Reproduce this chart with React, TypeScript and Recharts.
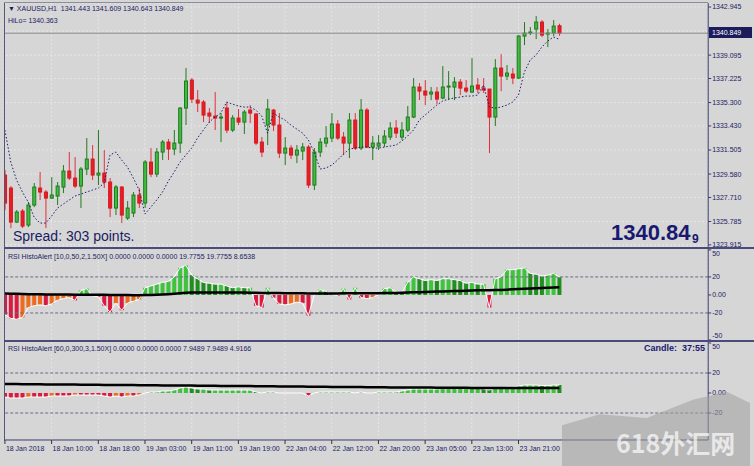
import { ComposedChart, Bar, Line, XAxis, YAxis, CartesianGrid, ReferenceLine, Cell } from "recharts";

// ---- data ----
const timeLabels = [
  "18 Jan 2018", "18 Jan 10:00", "18 Jan 18:00", "19 Jan 03:00", "19 Jan 11:00", "19 Jan 19:00",
  "22 Jan 04:00", "22 Jan 12:00", "22 Jan 20:00", "23 Jan 05:00", "23 Jan 13:00", "23 Jan 21:00",
];
const timeTickBars = [0, 8, 16, 24, 32, 40, 48, 56, 64, 72, 80, 88];

const opens = [
  1329.5, 1328.46, 1325.74, 1326.62, 1325.5, 1327.1, 1328.46, 1328.14, 1327.66, 1327.82,
  1328.54, 1329.82, 1329.26, 1328.62, 1329.98, 1330.78, 1329.5, 1329.66, 1328.94, 1326.86,
  1328.54, 1326.06, 1326.46, 1327.9, 1327.26, 1330.54, 1329.58, 1331.34, 1332.14, 1331.58,
  1332.06, 1334.86, 1337.1, 1335.5, 1335.34, 1334.46, 1334.22, 1334.06, 1334.86, 1333.1,
  1334.06, 1333.74, 1334.7, 1334.38, 1332.14, 1333.5, 1334.7, 1333.5, 1331.26, 1331.66,
  1331.1, 1331.42, 1331.74, 1328.7, 1331.34, 1332.06, 1332.46, 1333.58, 1332.54, 1332.06,
  1333.9, 1331.66, 1334.7, 1331.74, 1331.82, 1332.06, 1332.54, 1333.26, 1332.54, 1333.1,
  1334.14, 1336.54, 1336.22, 1335.98, 1336.14, 1335.66, 1336.54, 1336.54, 1336.94, 1336.46,
  1336.14, 1336.7, 1336.46, 1336.38, 1334.14, 1338.06, 1337.42, 1337.58, 1337.26, 1340.62,
  1340.86, 1341.18, 1341.74, 1340.78, 1340.86, 1341.443,
];
const highs = [
  1329.9, 1328.62, 1326.7, 1326.78, 1327.34, 1328.86, 1329.74, 1328.3, 1329.34, 1328.94,
  1330.3, 1331.34, 1330.94, 1330.14, 1332.46, 1331.9, 1333.1, 1331.5, 1329.26, 1328.7,
  1328.62, 1327.42, 1328.14, 1328.46, 1330.7, 1331.66, 1331.66, 1332.3, 1332.38, 1333.1,
  1334.94, 1338.06, 1337.26, 1336.3, 1335.5, 1334.86, 1336.14, 1334.46, 1335.34, 1334.3,
  1334.78, 1334.7, 1335.1, 1334.46, 1332.54, 1335.58, 1334.78, 1334.46, 1332.54, 1331.9,
  1331.9, 1332.06, 1331.9, 1331.66, 1332.46, 1333.42, 1334.46, 1333.9, 1332.94, 1334.46,
  1334.46, 1335.58, 1334.86, 1332.62, 1332.7, 1333.1, 1333.74, 1333.9, 1333.74, 1335.02,
  1337.26, 1336.86, 1337.1, 1336.54, 1336.54, 1338.22, 1337.82, 1337.34, 1337.18, 1337.1,
  1338.86, 1337.26, 1337.26, 1336.38, 1338.78, 1339.18, 1338.3, 1338.06, 1340.7, 1341.74,
  1341.34, 1342.22, 1341.9, 1341.18, 1341.9, 1341.609,
];
const lows = [
  1326.7, 1325.26, 1325.66, 1325.26, 1325.34, 1326.94, 1327.5, 1325.26, 1327.58, 1327.1,
  1328.06, 1329.1, 1328.46, 1326.86, 1329.5, 1329.1, 1328.7, 1328.46, 1326.14, 1326.3,
  1325.66, 1325.9, 1326.14, 1326.86, 1326.86, 1329.34, 1329.34, 1330.7, 1330.7, 1331.1,
  1331.26, 1333.5, 1335.26, 1334.54, 1333.74, 1333.66, 1333.1, 1332.14, 1332.86, 1332.94,
  1333.5, 1332.78, 1333.66, 1331.9, 1330.94, 1331.9, 1333.02, 1330.86, 1330.3, 1330.78,
  1330.46, 1330.7, 1328.46, 1328.3, 1330.94, 1331.74, 1332.14, 1332.3, 1331.1, 1330.86,
  1331.5, 1331.5, 1331.66, 1330.7, 1331.5, 1331.74, 1332.3, 1332.46, 1332.3, 1332.94,
  1334.06, 1335.5, 1335.1, 1335.5, 1335.18, 1335.58, 1335.5, 1335.5, 1335.9, 1336.06,
  1336.06, 1336.06, 1336.06, 1331.26, 1333.42, 1336.22, 1337.1, 1336.78, 1337.18, 1339.9,
  1340.7, 1340.38, 1340.54, 1339.74, 1340.62, 1340.643,
];
const closes = [
  1327.26, 1325.74, 1326.54, 1325.42, 1327.1, 1328.54, 1328.14, 1327.66, 1327.9, 1328.62,
  1329.82, 1329.26, 1328.62, 1329.98, 1330.78, 1329.5, 1329.66, 1328.94, 1326.86, 1328.54,
  1326.3, 1326.86, 1327.9, 1327.26, 1330.54, 1329.58, 1331.34, 1332.14, 1331.58, 1332.06,
  1334.86, 1337.02, 1335.58, 1335.26, 1334.3, 1334.22, 1334.06, 1334.14, 1333.1, 1334.06,
  1333.74, 1334.54, 1334.46, 1332.06, 1331.34, 1334.78, 1333.5, 1331.26, 1331.66, 1331.1,
  1331.5, 1331.74, 1328.7, 1331.34, 1332.14, 1332.46, 1333.58, 1332.46, 1332.06, 1333.9,
  1331.66, 1334.7, 1331.74, 1332.06, 1332.06, 1332.62, 1333.26, 1332.86, 1333.1, 1334.14,
  1336.54, 1336.22, 1335.9, 1336.14, 1335.58, 1336.54, 1336.62, 1336.94, 1336.46, 1336.22,
  1336.62, 1336.38, 1336.3, 1334.14, 1338.06, 1337.42, 1337.66, 1337.26, 1340.62, 1340.86,
  1340.94, 1341.74, 1340.7, 1340.86, 1341.42, 1340.849,
];
const hilo = [
  1333.1, 1330.54, 1329.1, 1328.14, 1327.34, 1326.14, 1325.66, 1325.66, 1326.22, 1326.86,
  1327.18, 1327.5, 1327.82, 1327.98, 1328.14, 1328.3, 1328.46, 1328.86, 1331.1, 1331.34,
  1330.7, 1330.14, 1329.26, 1328.3, 1326.38, 1326.94, 1327.5, 1328.14, 1329.02, 1329.74,
  1330.54, 1331.1, 1331.66, 1332.46, 1333.1, 1333.74, 1334.14, 1334.46, 1335.34, 1335.18,
  1335.02, 1334.94, 1334.94, 1334.7, 1334.22, 1332.86, 1334.46, 1334.14, 1333.9, 1333.5,
  1333.18, 1332.86, 1332.3, 1331.34, 1329.98, 1330.06, 1330.3, 1330.7, 1331.18, 1331.58,
  1331.66, 1331.74, 1331.74, 1331.66, 1331.66, 1331.74, 1331.82, 1331.9, 1332.22, 1332.62,
  1333.1, 1333.9, 1334.3, 1334.7, 1335.1, 1335.42, 1335.58, 1335.66, 1335.74, 1335.82,
  1335.82, 1335.9, 1336.7, 1334.94, 1334.86, 1334.94, 1335.1, 1335.34, 1335.9, 1337.74,
  1338.7, 1339.1, 1339.74, 1340.22, 1340.54, 1340.363,
];
const rsiFast = [
  -22, -26, -27, -25, -14, -12, -11, -12, -10, -6,
  -4, -3, -6, 5, 7, -1, -2, -12, -19, -9,
  -17, -9, -7, -5, 8, 10, 12, 14, 15, 20,
  30, 33, 22, 18, 14, 13, 12, 12, 10, 8,
  9, 8, 8, -12, -14, 8, -3, -10, -11, -10,
  -8, -9, -23, 0, 6, 4, 1, -1, 7, -5,
  8, -3, -4, -3, 0, 7, 8, 3, 2, 14,
  20, 18, 16, 17, 16, 18, 18, 17, 16, 13,
  14, 12, 12, -14, 18, 20, 28, 28, 29, 30,
  24, 23, 21, 22, 24, 19.7755,
];
const rsiFastSignal = [
  1.5, 1.4, 1.2, 1.0, 0.9, 0.8, 0.7, 0.6, 0.5, 0.5, 0.4, 0.4, 0.3, 0.3, 0.3, 0.2, 0.2, 0.1, 0.0, 0.0,
  -0.1, -0.1, -0.2, -0.2, -0.1, 0.0, 0.2, 0.5, 0.9, 1.4, 2.0, 2.5, 2.7, 2.8, 2.8, 2.8, 2.8, 2.8, 2.7, 2.7,
  2.6, 2.6, 2.5, 2.4, 2.3, 2.3, 2.2, 2.1, 2.0, 1.9, 1.9, 1.8, 1.6, 1.6, 1.6, 1.7, 1.7, 1.7, 1.8, 1.8,
  1.9, 1.9, 1.9, 2.0, 2.0, 2.1, 2.2, 2.3, 2.4, 2.6, 2.9, 3.1, 3.3, 3.5, 3.7, 3.9, 4.1, 4.3, 4.5, 4.7,
  4.9, 5.1, 5.2, 5.2, 5.4, 5.6, 5.9, 6.2, 6.5, 6.9, 7.2, 7.5, 7.8, 8.1, 8.4, 8.6538,
];
const rsiSlow = [
  -4, -5, -5, -5, -4, -4, -4, -4, -3, -3, -3, -3, -2, -2, -2, -2, -2, -3, -4, -3,
  -4, -3, -3, -2, 0, 1, 1, 2, 2, 3, 5, 6, 5, 4, 4, 3, 3, 3, 3, 3,
  3, 3, 3, 1, 0, 1, 1, 0, 0, 0, 0, 0, -3, 0, 1, 1, 1, 1, 1, 1,
  0, 1, 0, 0, 1, 1, 1, 1, 2, 3, 4, 4, 4, 4, 4, 5, 5, 5, 5, 5,
  5, 5, 4, 3, 5, 5, 6, 6, 7, 8, 8, 8, 7.5, 7.5, 8, 7.9489,
];
const rsiSlowSignal = [
  9.0, 8.9, 8.9, 8.8, 8.8, 8.7, 8.7, 8.6, 8.6, 8.5, 8.5, 8.4, 8.4, 8.3, 8.3, 8.2, 8.2, 8.1, 8.1, 8.0,
  8.0, 7.9, 7.9, 7.8, 7.8, 7.7, 7.7, 7.6, 7.6, 7.5, 7.5, 7.4, 7.4, 7.3, 7.3, 7.2, 7.2, 7.1, 7.1, 7.0,
  7.0, 6.9, 6.9, 6.8, 6.8, 6.7, 6.7, 6.6, 6.6, 6.5, 6.5, 6.4, 6.3, 6.3, 6.2, 6.2, 6.1, 6.1, 6.0, 6.0,
  5.9, 5.9, 5.8, 5.8, 5.7, 5.7, 5.6, 5.6, 5.5, 5.5, 5.5, 5.4, 5.4, 5.4, 5.3, 5.3, 5.3, 5.2, 5.2, 5.2,
  5.1, 5.1, 5.1, 5.0, 5.0, 5.0, 5.0, 5.0, 4.9, 4.9, 4.9, 4.9, 4.9, 4.9, 4.9, 4.9166,
];
const priceTicks = [1323.915, 1325.785, 1327.71, 1329.58, 1331.505, 1333.43, 1335.3, 1337.225, 1339.095, 1341.02, 1342.945];
const rsiTicks = [-50, -20, 0, 20, 50];
const SHIFT_BARS = 25; // empty space on the right (chart shift)

const rows = Array.from({ length: opens.length + SHIFT_BARS }, (_, i) =>
  i < opens.length
    ? {
        i,
        open: opens[i],
        high: highs[i],
        low: lows[i],
        close: closes[i],
        range: [lows[i], highs[i]],
        hilo: hilo[i],
        fast: rsiFast[i],
        fastSig: rsiFastSignal[i],
        slow: rsiSlow[i],
        slowSig: rsiSlowSignal[i],
      }
    : { i }
);

const BG = "#d6d6d6";
const NAVY = "#1b1b64";
const AXIS = "#3a3a6e";
const GRID = "#e6e6e6";
const FONT = '"Liberation Sans", Arial, sans-serif';

function histColor(values: number[], idx: number) {
  const v = values[idx];
  const prev = idx > 0 ? values[idx - 1] : v;
  if (v >= 0) return v >= prev ? "#3cc43c" : "#1f8f1f";
  return v <= prev ? "#dc1a40" : "#f06a1c";
}

function Candle(props: any) {
  const { x, y, width, height, payload } = props;
  if (payload == null || payload.open == null) return null;
  const top = Math.min(y, y + height);
  const h = Math.abs(height);
  const span = payload.high - payload.low || 1;
  const py = (v: number) => top + ((payload.high - v) / span) * h;
  const up = payload.close >= payload.open;
  const cx = x + width / 2;
  const bTop = py(Math.max(payload.open, payload.close));
  const bBot = py(Math.min(payload.open, payload.close));
  const wick = up ? "#1f7a1f" : "#e0303c";
  return (
    <g>
      <line x1={cx} x2={cx} y1={top} y2={top + h} stroke={wick} strokeWidth={1} />
      <rect
        x={cx - 1.5}
        y={bTop}
        width={3}
        height={Math.max(bBot - bTop, 1)}
        fill={up ? "#3fbd3f" : "#ec1c24"}
        stroke={up ? "#1f7a1f" : "#d41820"}
        strokeWidth={1}
      />
    </g>
  );
}

const priceTick = (props: any) => {
  const { x, y, payload } = props;
  return (
    <text x={x} y={y} dy="0.35em" fontSize={7} fill={NAVY} fontFamily={FONT}>
      {Number(payload.value).toFixed(3)}
    </text>
  );
};

const rsiTick = (props: any) => {
  const { x, y, payload } = props;
  const v = payload.value;
  const nudge = v === 50 ? 4 : v === -50 ? -4 : 0;
  return (
    <text x={x} y={y + nudge} dy="0.35em" fontSize={7} fill={NAVY} fontFamily={FONT}>
      {v === 0 ? "0.00" : String(v)}
    </text>
  );
};

const timeTick = (props: any) => {
  const { x, y, payload } = props;
  const k = timeTickBars.indexOf(payload.value);
  return (
    <text x={x + 1} y={y + 6} fontSize={7} fill={NAVY} fontFamily={FONT}>
      {k >= 0 ? timeLabels[k] : ""}
    </text>
  );
};

const CHART_W = 752.2;

function RsiPanel({ k, sig, domain, top, height, bottomAxis }: any) {
  const values = k === "fast" ? rsiFast : rsiSlow;
  return (
    <div style={{ position: "absolute", left: 1.8, top }}>
      <ComposedChart
        width={CHART_W}
        height={height}
        data={rows}
        margin={{ top: 8, right: 0, bottom: bottomAxis ? 0 : 8, left: 0 }}
        barCategoryGap={1}
      >
        <CartesianGrid stroke={GRID} strokeDasharray="2 2" horizontal={false} />
        <XAxis
          dataKey="i"
          type="category"
          ticks={timeTickBars}
          interval={0}
          hide={!bottomAxis}
          height={bottomAxis ? 26 : 0}
          tick={timeTick}
          tickSize={4}
          tickMargin={1}
          axisLine={{ stroke: AXIS }}
          tickLine={{ stroke: "#333" }}
        />
        <YAxis
          orientation="right"
          width={46}
          domain={domain}
          allowDataOverflow
          interval={0}
          ticks={rsiTicks.filter((t) => t >= domain[0] && t <= domain[1])}
          tick={rsiTick}
          tickSize={3}
          tickMargin={1}
          axisLine={{ stroke: AXIS }}
          tickLine={{ stroke: AXIS }}
        />
        <ReferenceLine y={20} stroke="#6a6a86" strokeDasharray="3 2" />
        <ReferenceLine y={-20} stroke="#6a6a86" strokeDasharray="3 2" />
        <Bar dataKey={k} isAnimationActive={false}>
          {rows.map((r, idx) => (
            <Cell key={idx} fill={idx < values.length ? histColor(values, idx) : "none"} />
          ))}
        </Bar>
        <Line dataKey={k} stroke="#ffffff" strokeWidth={1} dot={false} isAnimationActive={false} />
        <Line dataKey={sig} stroke="#000000" strokeWidth={2.5} dot={false} isAnimationActive={false} />
      </ComposedChart>
    </div>
  );
}

const small: any = { position: "absolute", fontSize: 7, color: NAVY, whiteSpace: "pre", fontFamily: FONT, lineHeight: 1 };

export default function App() {
  return (
    <div style={{ position: "fixed", left: 0, top: 0, width: 754, height: 466, background: BG, overflow: "hidden", fontFamily: FONT }}>
      {/* main price panel: plot y 3..247 */}
      <div style={{ position: "absolute", left: 1.8, top: -7 }}>
        <ComposedChart width={CHART_W} height={264} data={rows} margin={{ top: 10, right: 0, bottom: 10, left: 0 }}>
          <CartesianGrid stroke={GRID} strokeDasharray="2 2" />
          <XAxis dataKey="i" type="category" ticks={timeTickBars} interval={0} hide />
          <YAxis
            orientation="right"
            width={46}
            domain={[1323.745, 1343.265]}
            allowDataOverflow
            interval={0}
            ticks={priceTicks}
            tick={priceTick}
            tickSize={3}
            tickMargin={1}
            axisLine={{ stroke: AXIS }}
            tickLine={{ stroke: AXIS }}
          />
          <ReferenceLine y={closes[closes.length - 1]} stroke="#8c8c8c" />
          <Bar dataKey="range" shape={Candle} isAnimationActive={false} />
          <Line dataKey="hilo" stroke="#1c1c6e" strokeWidth={1} strokeDasharray="1.5 2" dot={false} isAnimationActive={false} />
        </ComposedChart>
      </div>

      <RsiPanel k="fast" sig="fastSig" domain={[-50, 51]} top={241} height={107} bottomAxis={false} />
      <RsiPanel k="slow" sig="slowSig" domain={[-47, 51]} top={334} height={132} bottomAxis />

      {/* frame */}
      <div style={{ position: "absolute", left: 0, top: 0, width: 4, height: 466, background: BG }} />
      <div style={{ position: "absolute", left: 4, top: 2, width: 1, height: 438, background: "#55557a" }} />
      <div style={{ position: "absolute", left: 4, top: 2, width: 704, height: 1, background: "#8a8aa0" }} />
      <div style={{ position: "absolute", left: 4, top: 247, width: 750, height: 2, background: "#4b4b7b" }} />
      <div style={{ position: "absolute", left: 4, top: 340, width: 750, height: 2, background: "#4b4b7b" }} />

      {/* bid label */}
      <div style={{ position: "absolute", left: 709, top: 27, width: 43, height: 11, background: "#1c1c5c", color: "#fff", fontSize: 7, lineHeight: "11px", paddingLeft: 3, boxSizing: "border-box", fontFamily: FONT }}>
        1340.849
      </div>

      {/* texts */}
      <div style={{ ...small, left: 8, top: 5 }}>{"▼ XAUUSD,H1  1341.443 1341.609 1340.643 1340.849"}</div>
      <div style={{ ...small, left: 8, top: 17 }}>HiLo= 1340.363</div>
      <div style={{ ...small, left: 8, top: 253 }}>RSI HistoAlert [10,0,50,2,1.50X] 0.0000 0.0000 0.0000 19.7755 19.7755 8.6538</div>
      <div style={{ ...small, left: 8, top: 345 }}>RSI HistoAlert [60,0,300,3,1.50X] 0.0000 0.0000 0.0000 7.9489 7.9489 4.9166</div>
      <div style={{ position: "absolute", left: 13, top: 229, fontSize: 14, color: NAVY, lineHeight: 1 }}>Spread: 303 points.</div>
      <div style={{ position: "absolute", left: 611, top: 222, fontSize: 22, fontWeight: 700, color: "#191970", lineHeight: 1 }}>1340.84</div>
      <div style={{ position: "absolute", left: 692, top: 233, fontSize: 12, fontWeight: 700, color: "#191970", lineHeight: 1 }}>9</div>
      <div style={{ position: "absolute", left: 644, top: 344, fontSize: 9, fontWeight: 700, color: "#191970", lineHeight: 1, whiteSpace: "pre" }}>{"Candle:  37:55"}</div>

      {/* watermark */}
      <div
        style={{
          position: "absolute",
          left: 562,
          top: 392,
          width: 188,
          height: 74,
          background: "rgba(160,160,160,0.55)",
          clipPath: "polygon(0% 45%, 20% 30%, 45% 35%, 70% 10%, 88% 0%, 100% 15%, 100% 100%, 0% 100%)",
        }}
      />
      <div style={{ position: "absolute", left: 616, top: 430, fontSize: 25, fontWeight: 700, color: "rgba(255,255,255,0.7)", lineHeight: 1, whiteSpace: "nowrap", fontFamily: '"Noto Sans CJK SC", sans-serif' }}>
        618外汇网
      </div>
    </div>
  );
}
